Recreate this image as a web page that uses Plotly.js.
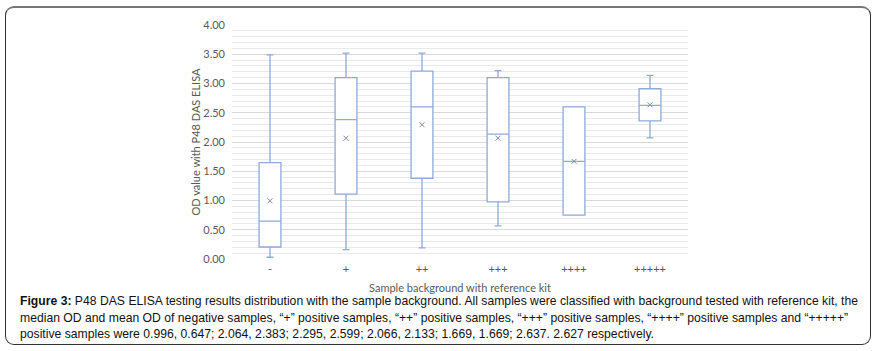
<!DOCTYPE html>
<html>
<head>
<meta charset="utf-8">
<script src="https://cdn.plot.ly/plotly-3.0.1.min.js"></script>
<style>
  html, body { margin:0; padding:0; background:#fff; }
  #wrap { position:relative; width:878px; height:351px; overflow:hidden; }
  #frame { position:absolute; left:5px; top:6px; width:864px; height:336px; border:1.6px solid #333; border-top:2px solid #777; border-radius:9px; }
  #chart { position:absolute; left:0; top:0; width:878px; height:351px; }
  #caption { position:absolute; left:20px; top:293px; font-family:"Liberation Sans Narrow","Arial Narrow","Liberation Sans",Arial,sans-serif; font-size:13.5px; line-height:16.6px; color:#111; white-space:nowrap; transform-origin:0 0; }
  #caption b { font-weight:bold; }
</style>
</head>
<body>
<div id="wrap">
  <div id="chart"></div>
  <div id="frame"></div>
  <div id="caption">
    <div class="ln"><b>Figure 3:</b> P48 DAS ELISA testing results distribution with the sample background. All samples were classified with background tested with reference kit, the</div>
    <div class="ln">median OD and mean OD of negative samples, “+” positive samples, “++” positive samples, “+++” positive samples, “++++” positive samples and “+++++”</div>
    <div class="ln">positive samples were 0.996, 0.647; 2.064, 2.383; 2.295, 2.599; 2.066, 2.133; 1.669, 1.669; 2.637. 2.627 respectively.</div>
  </div>
</div>
<script>
// Data
const categories = ["-", "+", "++", "+++", "++++", "+++++"];
const lowerWhisker = [0.03, 0.16, 0.19, 0.565, 0.75, 2.07];
const q1Values     = [0.205, 1.11, 1.38, 0.975, 0.75, 2.36];
const medianValues = [0.647, 2.383, 2.599, 2.133, 1.669, 2.627];
const q3Values     = [1.646, 3.10, 3.21, 3.10, 2.60, 2.91];
const upperWhisker = [3.49, 3.52, 3.52, 3.22, 2.60, 3.14];
const meanValues   = [0.996, 2.064, 2.295, 2.066, 1.669, 2.637];
const yTickVals = [0, 0.5, 1, 1.5, 2, 2.5, 3, 3.5, 4];
const yTickText = ["0.00","0.50","1.00","1.50","2.00","2.50","3.00","3.50","4.00"];

const boxColor = "#8EA9DB";
const textColor = "#595959";
const font = "Lato, Carlito, 'Open Sans', sans-serif";

const traces = [
  {
    type: "box",
    x: categories,
    q1: q1Values,
    median: medianValues,
    q3: q3Values,
    lowerfence: lowerWhisker,
    upperfence: upperWhisker,
    fillcolor: "#ffffff",
    line: { color: boxColor, width: 1.3 },
    whiskerwidth: 0.32,
    boxpoints: false,
    hoverinfo: "skip",
    showlegend: false
  },
  {
    type: "scatter",
    mode: "markers",
    x: categories,
    y: meanValues,
    marker: { symbol: "x-thin-open", size: 5, color: "#7a8cb0", line: { color: "#7a8cb0", width: 1 } },
    hoverinfo: "skip",
    showlegend: false
  }
];

const layout = {
  width: 878, height: 351,
  margin: { l: 232, r: 190, t: 25, b: 92, pad: 0 },
  paper_bgcolor: "rgba(0,0,0,0)",
  plot_bgcolor: "#ffffff",
  boxgap: 0.59,
  showlegend: false,
  xaxis: {
    type: "category",
    categoryorder: "array",
    categoryarray: categories,
    showgrid: false, zeroline: false, showline: false,
    ticks: "",
    ticklabelstandoff: 2,
    tickfont: { family: font, size: 11, color: textColor },
    title: { text: "Sample background with reference kit", font: { family: font, size: 11, color: textColor }, standoff: 10 }
  },
  yaxis: {
    range: [0, 4],
    tickvals: yTickVals,
    ticktext: yTickText,
    showgrid: true, gridcolor: "#d9d9d9", gridwidth: 1,
    minor: { dtick: 0.1, showgrid: true, gridcolor: "#e9e9e9", gridwidth: 1 },
    zeroline: false, showline: false,
    ticks: "",
    ticklabelstandoff: 6,
    tickfont: { family: font, size: 11, color: textColor },
    title: { text: "OD value with P48 DAS ELISA", font: { family: font, size: 11, color: textColor }, standoff: 0 }
  }
};

Plotly.newPlot("chart", traces, layout, { staticPlot: true, displayModeBar: false }).then(() => {
  const cap = document.getElementById("caption");
  const first = cap.querySelector(".ln");
  const w = first.getBoundingClientRect().width;
  const target = 838;
  const s = target / w;
  cap.style.transform = "scaleX(" + s.toFixed(4) + ")";
});
</script>
</body>
</html>
